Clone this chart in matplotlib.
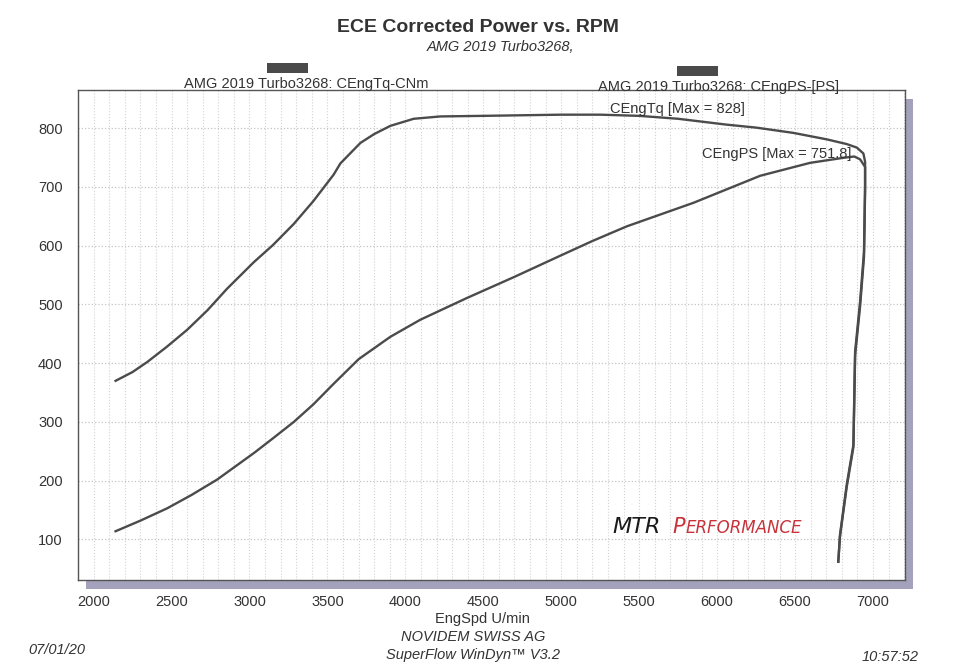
import matplotlib
matplotlib.use("Agg")
import matplotlib.pyplot as plt
from matplotlib.patches import Rectangle
from matplotlib.ticker import MultipleLocator

# dyno data (rpm, Nm / PS), incl. the run-down tail
tq_rpm = [2141, 2250, 2344, 2470, 2601, 2730, 2857, 3028, 3150, 3284, 3410, 3540, 3583,
          3712, 3800, 3904, 4053, 4224, 4500, 4750, 5000, 5250, 5500, 5750, 6062,
          6250, 6489, 6703, 6831, 6896, 6938, 6949, 6949, 6942, 6917, 6885, 6874,
          6831, 6788, 6777]
tq_val = [370, 385, 402, 428, 457, 490, 527, 572, 601, 637, 676, 721, 740,
          775, 790, 804, 816, 820, 821, 822, 823, 823, 821, 816, 806,
          801, 792, 781, 773, 767, 757, 743, 704, 590, 505, 420, 261,
          193, 108, 62]

ps_rpm = [2141, 2300, 2472, 2630, 2793, 3028, 3150, 3284, 3410, 3540, 3701, 3904,
          4096, 4395, 4700, 4994, 5200, 5421, 5848, 6276, 6596, 6810, 6880,
          6917, 6949, 6949, 6942, 6917, 6885, 6874, 6831, 6788, 6777]
ps_val = [114, 132, 153, 176, 202, 247, 272, 300, 330, 365, 407, 445,
          474, 511, 547, 583, 608, 633, 673, 719, 741, 749.6, 751.8,
          747, 734, 693, 581, 497, 413, 257, 189, 105, 62]

x_ticks = [2000, 2500, 3000, 3500, 4000, 4500, 5000, 5500, 6000, 6500, 7000]
y_ticks = [100, 200, 300, 400, 500, 600, 700, 800]

plt.rcParams['font.family'] = ['Liberation Sans', 'DejaVu Sans']

W, H = 960, 672
fig = plt.figure(figsize=(9.6, 6.72), dpi=100)
fig.patch.set_facecolor('white')

def fx(px):
    return px / W

def fy(py):
    return 1 - py / H

left, right, top, bottom = 78, 905, 90, 580

# drop shadow behind the plot frame (its own axes, under the plot)
sh = fig.add_axes([fx(left + 8), fy(bottom + 9), (right - left) / W, (bottom - top) / H])
sh.set_facecolor('#a3a1bb')
sh.set_xticks([])
sh.set_yticks([])
for s in sh.spines.values():
    s.set_visible(False)
sh.set_zorder(0)

ax = fig.add_axes([fx(left), fy(bottom), (right - left) / W, (bottom - top) / H])
ax.set_zorder(1)

line_col = '#4b4b4b'
ax.plot(tq_rpm, tq_val, color=line_col, lw=1.7, zorder=3)
ax.plot(ps_rpm, ps_val, color=line_col, lw=1.7, zorder=3)

ax.set_xlim(1900, 7205)
ax.set_ylim(31, 865)
ax.set_xticks(x_ticks)
ax.set_yticks(y_ticks)
ax.xaxis.set_minor_locator(MultipleLocator(100))
ax.grid(which='major', axis='y', color='#c4c4c4', ls=':', lw=0.9)
ax.grid(which='both', axis='x', color='#d2d2d2', ls=':', lw=0.8)
ax.tick_params(which='both', length=0, labelsize=10.5, labelcolor='#333333')
ax.tick_params(axis='x', pad=11)
ax.tick_params(axis='y', pad=11)
for s in ax.spines.values():
    s.set_color('#555555')
    s.set_linewidth(1.0)
ax.set_facecolor('white')
fig.text(fx(482), fy(619), 'EngSpd U/min', ha='center', va='center', fontsize=10.5, color='#333333')

# max annotations
fig.text(fx(610), fy(109), 'CEngTq [Max = 828]', ha='left', va='center', fontsize=10.5,
         color='#333333', zorder=5)
fig.text(fx(702), fy(154), 'CEngPS [Max = 751.8]', ha='left', va='center', fontsize=10.5,
         color='#333333', zorder=5)

# titles
fig.text(fx(478), fy(28), 'ECE Corrected Power vs. RPM', ha='center', va='center',
         fontsize=14, fontweight='bold', color='#333333')
fig.text(fx(501), fy(47), 'AMG 2019 Turbo3268,', ha='center', va='center',
         fontsize=10.5, style='italic', color='#333333')

# legend labels with their colour swatches
fig.text(fx(306), fy(84), 'AMG 2019 Turbo3268: CEngTq-CNm', ha='center', va='center',
         fontsize=10.5, color='#333333')
fig.text(fx(719), fy(87), 'AMG 2019 Turbo3268: CEngPS-[PS]', ha='center', va='center',
         fontsize=10.5, color='#333333')
for x0, y0 in [(267, 63), (677, 66)]:
    fig.patches.append(Rectangle((fx(x0), fy(y0 + 10)), 41 / W, 10 / H,
                                 transform=fig.transFigure, facecolor='#4a4a4a',
                                 edgecolor='none'))

# MTR Performance logo
fig.text(fx(661), fy(527), 'MTR', ha='right', va='center', fontsize=16,
         style='italic', color='#1a1a1a', family='DejaVu Sans', fontweight='light')
fig.text(fx(672), fy(527), 'P', ha='left', va='center', fontsize=15,
         style='italic', color='#c8323a', family='DejaVu Sans')
fig.text(fx(686), fy(528), 'ERFORMANCE', ha='left', va='center', fontsize=12,
         style='italic', color='#c8323a', family='DejaVu Sans')

# footer
fig.text(fx(28), fy(650), '07/01/20', ha='left', va='center', fontsize=10.5,
         style='italic', color='#333333')
fig.text(fx(473), fy(637), 'NOVIDEM SWISS AG', ha='center', va='center', fontsize=10.5,
         style='italic', color='#333333')
fig.text(fx(473), fy(655), 'SuperFlow WinDyn\u2122 V3.2', ha='center', va='center',
         fontsize=10.5, style='italic', color='#333333')
fig.text(fx(919), fy(657), '10:57:52', ha='right', va='center', fontsize=10.5,
         style='italic', color='#333333')

fig.savefig('out.png', dpi=100, facecolor='white')
